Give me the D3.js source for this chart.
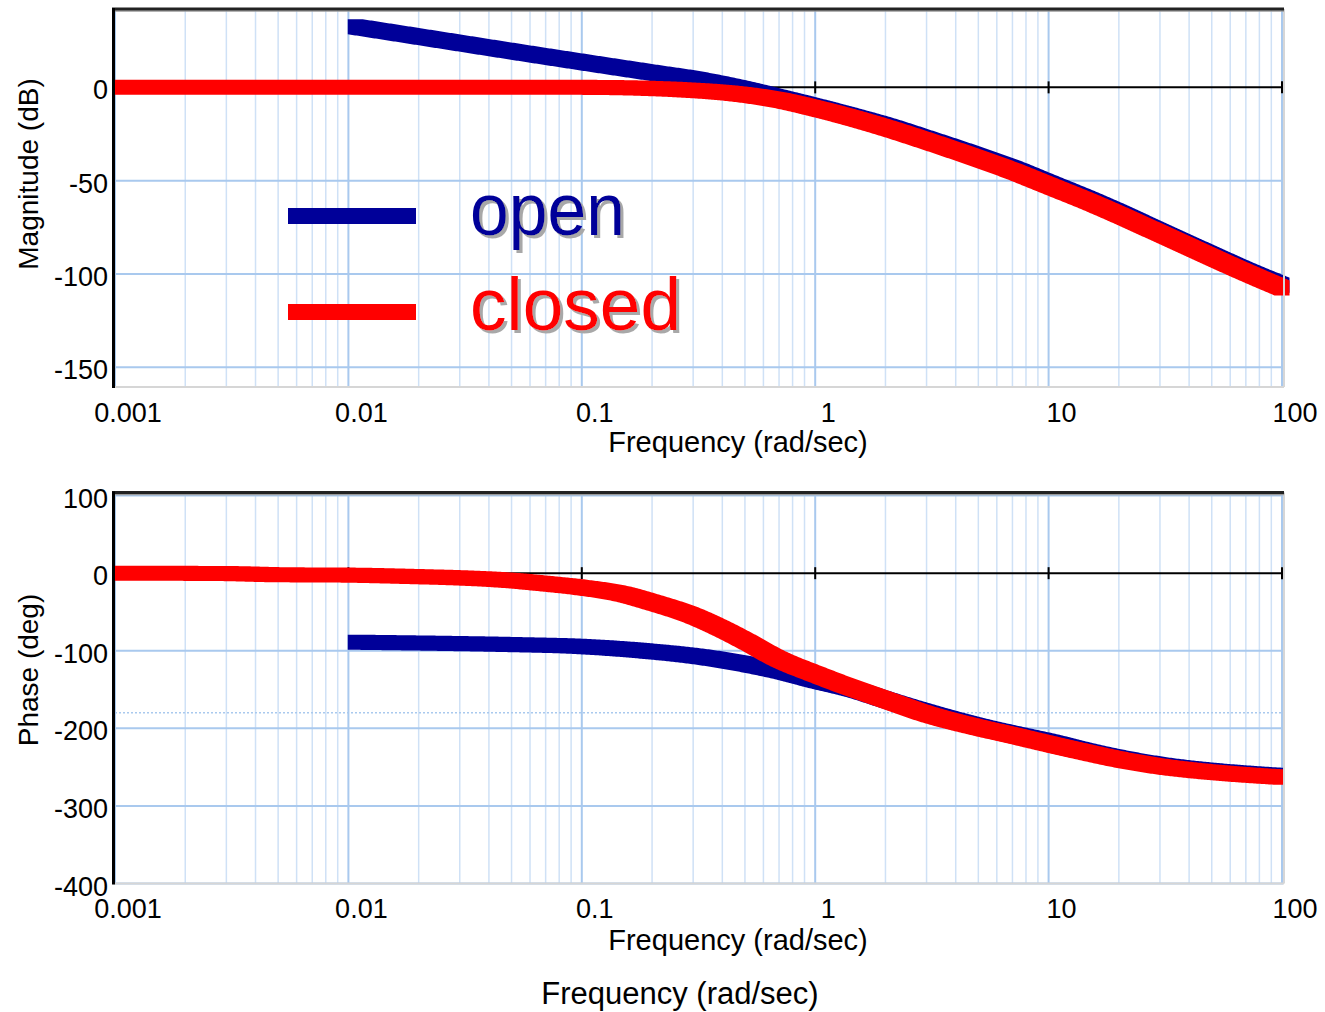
<!DOCTYPE html>
<html>
<head>
<meta charset="utf-8">
<script src="https://cdn.jsdelivr.net/npm/d3@7"></script>
<style>
body { margin: 0; background: #fff; }
text { font-family: "Liberation Sans", Arial, sans-serif; fill: #000; }
</style>
</head>
<body>
<svg id="bode" width="1325" height="1012"></svg>
<script>
// axis ticks and labels
const freqTicks = [0.001, 0.01, 0.1, 1, 10, 100];
const freqTickLabels = ["0.001", "0.01", "0.1", "1", "10", "100"];
const magTicks = [0, -50, -100, -150];
const phaseTicks = [100, 0, -100, -200, -300, -400];

// open loop (blue)
const freqOpen = [0.0107, 0.02, 0.05, 0.1, 0.2, 0.3, 0.5, 0.7, 1, 1.5, 2, 3, 5, 7, 10, 15, 20, 30, 50, 70, 100];
const magOpen = [32.5, 27.2, 19.4, 13.6, 7.9, 4.6, -1.0, -5.4, -10.2, -16.0, -20.4, -27.5, -36.8, -43.3, -51.2, -60.2, -67.0, -77.2, -89.8, -98.0, -106];
const phaseOpen = [-89, -90, -92, -94.5, -101, -106.5, -117, -126, -138, -151, -163, -179, -197, -207, -217, -230, -238, -247, -254.5, -258, -261];

// closed loop (red)
const freqClosed = [0.001, 0.003, 0.005, 0.01, 0.02, 0.03, 0.05, 0.07, 0.1, 0.15, 0.2, 0.3, 0.4, 0.5, 0.7, 1, 1.5, 2, 3, 5, 7, 10, 15, 20, 30, 50, 70, 100];
const magClosed = [0, 0, 0, 0, 0, 0, 0, 0, 0, -0.2, -0.6, -1.6, -2.7, -4.0, -6.8, -11.2, -17.0, -21.6, -28.7, -38.2, -44.8, -52.6, -61.5, -68.3, -78.3, -91.0, -99.2, -107.5];
const phaseClosed = [0, -0.5, -2, -2.5, -4.5, -6, -9.5, -13.5, -18.5, -27, -37.5, -55, -72, -87, -111, -130, -150, -163, -181.5, -199, -209, -220, -232, -240, -249, -256.5, -260, -263];

const legendNames = ["open", "closed"];
const blue = "#000099", red = "#ff0000";

const svg = d3.select("#bode");
const x = d3.scaleLog().domain([0.001, 100]).range([115, 1282]);

var minorFreqs = [];
[0.001, 0.01, 0.1, 1, 10].forEach(function (d) {
    for (var k = 2; k <= 9; k++) minorFreqs.push(d * k);
});

function samplePath(g, lineGen, data) {
    var tmp = g.append("path").attr("d", lineGen(data)).attr("fill", "none");
    var node = tmp.node(), len = node.getTotalLength(), pts = [];
    for (var s = 0; s < len; s += 1.5) {
        var p = node.getPointAtLength(s);
        pts.push([p.x, p.y]);
    }
    var e = node.getPointAtLength(len);
    pts.push([e.x, e.y]);
    tmp.remove();
    return pts;
}

// thick line drawn like a square pen
function squarePen(g, pts, half, color) {
    var d = "";
    for (var i = 0; i < pts.length - 1; i++) {
        var corners = [];
        [pts[i], pts[i + 1]].forEach(function (c) {
            corners.push([c[0] - half, c[1] - half], [c[0] + half, c[1] - half],
                [c[0] + half, c[1] + half], [c[0] - half, c[1] + half]);
        });
        var hull = d3.polygonHull(corners);
        d += "M" + hull.map(h => h[0].toFixed(2) + "," + h[1].toFixed(2)).join("L") + "Z";
    }
    g.append("path").attr("d", d).attr("fill", color);
}

function drawPanel(o) {
    var y = d3.scaleLinear().domain(o.yDomain).range([o.bottom, o.top]);
    var g = svg.append("g");

    // grid
    g.selectAll(null).data(minorFreqs).enter().append("line")
        .attr("x1", d => x(d)).attr("x2", d => x(d))
        .attr("y1", o.top).attr("y2", o.bottom)
        .attr("stroke", "#cfe1f6").attr("stroke-width", 1.5);
    g.selectAll(null).data(freqTicks).enter().append("line")
        .attr("x1", d => x(d)).attr("x2", d => x(d))
        .attr("y1", o.top).attr("y2", o.bottom)
        .attr("stroke", "#a9c9ee").attr("stroke-width", 2);
    g.selectAll(null).data(o.ticks.filter(t => t !== 0)).enter().append("line")
        .attr("x1", 115).attr("x2", 1283)
        .attr("y1", d => y(d)).attr("y2", d => y(d))
        .attr("stroke", "#a9c9ee").attr("stroke-width", 2);
    if (o.dotted !== undefined) {
        g.append("line").attr("x1", 115).attr("x2", 1283)
            .attr("y1", y(o.dotted)).attr("y2", y(o.dotted))
            .attr("stroke", "#a9c9ee").attr("stroke-width", 1.5)
            .attr("stroke-dasharray", "2,2");
    }

    // zero axis with decade ticks
    g.append("line").attr("x1", 115).attr("x2", 1282)
        .attr("y1", y(0)).attr("y2", y(0))
        .attr("stroke", "#000").attr("stroke-width", 2);
    g.selectAll(null).data(freqTicks.slice(1)).enter().append("line")
        .attr("x1", d => x(d)).attr("x2", d => x(d))
        .attr("y1", y(0) - 6).attr("y2", y(0) + 6)
        .attr("stroke", "#000").attr("stroke-width", 2);

    // curves
    var clipId = "clip" + o.name;
    svg.append("clipPath").attr("id", clipId).append("rect")
        .attr("x", 115).attr("y", o.top - 10)
        .attr("width", o.clipRight - 115).attr("height", o.bottom - o.top + 20);
    var lg = svg.append("g").attr("clip-path", "url(#" + clipId + ")");
    o.series.forEach(function (s) {
        var data = s.f.map((f, i) => [f, s.v[i]]);
        var lineGen = d3.line().x(d => x(d[0])).y(d => y(d[1])).curve(d3.curveMonotoneX);
        squarePen(lg, samplePath(lg, lineGen, data), 7.5, s.color);
    });

    // frame
    svg.append("line").attr("x1", 113).attr("x2", 1284).attr("y1", o.bottom).attr("y2", o.bottom)
        .attr("stroke", "#d6d6d6").attr("stroke-width", 2);
    svg.append("line").attr("x1", 1284).attr("x2", 1284).attr("y1", o.top).attr("y2", o.bottom)
        .attr("stroke", "#d6d6d6").attr("stroke-width", 2);
    svg.append("line").attr("x1", 112).attr("x2", 1284).attr("y1", o.top + 2).attr("y2", o.top + 2)
        .attr("stroke", "#9a9a9a").attr("stroke-width", 1.5);
    svg.append("line").attr("x1", 112).attr("x2", 1284).attr("y1", o.top).attr("y2", o.top)
        .attr("stroke", "#222").attr("stroke-width", 3);
    svg.append("line").attr("x1", 113.5).attr("x2", 113.5).attr("y1", o.top - 1).attr("y2", o.bottom + 1)
        .attr("stroke", "#000").attr("stroke-width", 3);

    // tick labels
    svg.selectAll(null).data(o.ticks).enter().append("text")
        .attr("x", 108).attr("y", d => y(d) + 3)
        .attr("text-anchor", "end").attr("dominant-baseline", "central")
        .attr("font-size", 27).text(d => d);
    svg.selectAll(null).data(freqTicks).enter().append("text")
        .attr("x", d => x(d) + 13).attr("y", o.xLabelY)
        .attr("text-anchor", "middle").attr("font-size", 27)
        .text((d, i) => freqTickLabels[i]);
    svg.append("text").attr("x", 738).attr("y", o.freqLabelY)
        .attr("text-anchor", "middle").attr("font-size", 29)
        .text("Frequency (rad/sec)");
    svg.append("text")
        .attr("transform", "translate(38," + o.titleY + ") rotate(-90)")
        .attr("text-anchor", "middle").attr("font-size", 28)
        .text(o.title);
}

drawPanel({
    name: "mag", top: 9, bottom: 387, yDomain: [-160.6, 42], ticks: magTicks,
    title: "Magnitude (dB)", titleY: 174, xLabelY: 422, freqLabelY: 452, clipRight: 1296,
    series: [{ f: freqOpen, v: magOpen, color: blue }, { f: freqClosed, v: magClosed, color: red }]
});

drawPanel({
    name: "phase", top: 492.5, bottom: 883.5, yDomain: [-400, 104], ticks: phaseTicks, dotted: -180,
    title: "Phase (deg)", titleY: 670, xLabelY: 918, freqLabelY: 950, clipRight: 1283,
    series: [{ f: freqOpen, v: phaseOpen, color: blue }, { f: freqClosed, v: phaseClosed, color: red }]
});

// legend, text with a soft grey shadow
svg.append("defs").append("filter").attr("id", "shadow")
    .attr("x", "-10%").attr("y", "-10%").attr("width", "130%").attr("height", "130%")
    .append("feDropShadow").attr("dx", 3).attr("dy", 3).attr("stdDeviation", 0.6)
    .attr("flood-color", "#a8a8a8").attr("flood-opacity", 1);

var legend = svg.append("g");
var legendColors = [blue, red];
var legendRows = [216, 312];
var legendBase = [235, 330];
var legendWidths = [155, 211];
legendNames.forEach(function (name, i) {
    legend.append("line").attr("x1", 288).attr("x2", 416)
        .attr("y1", legendRows[i]).attr("y2", legendRows[i])
        .attr("stroke", legendColors[i]).attr("stroke-width", 16);
    legend.append("text").attr("x", 470).attr("y", legendBase[i])
        .attr("font-family", "'Comic Sans MS', 'DejaVu Sans', sans-serif")
        .attr("font-size", 74).attr("textLength", legendWidths[i]).attr("lengthAdjust", "spacingAndGlyphs")
        .attr("filter", "url(#shadow)")
        .style("fill", legendColors[i]).text(name);
});

svg.append("text").attr("x", 680).attr("y", 1004)
    .attr("text-anchor", "middle").attr("font-size", 31)
    .text("Frequency (rad/sec)");
</script>
</body>
</html>
